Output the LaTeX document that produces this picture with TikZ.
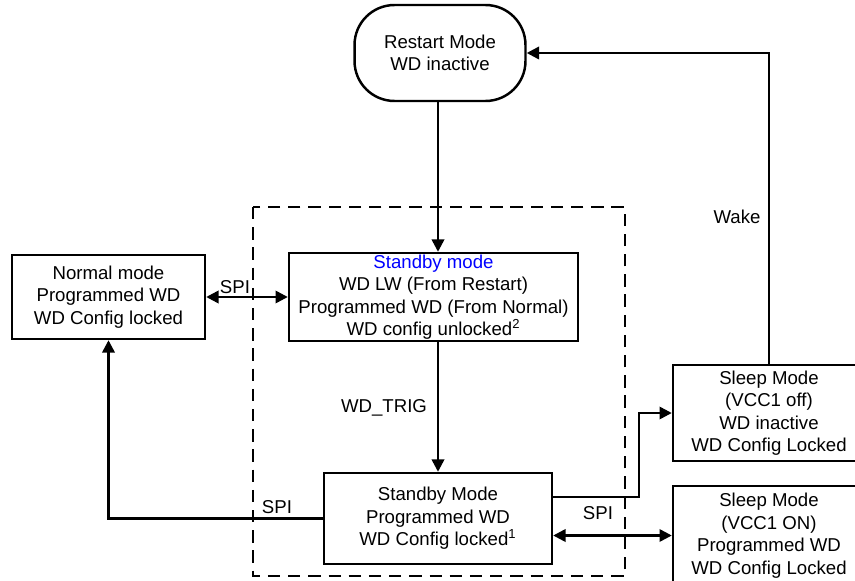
\documentclass[tikz,border=0pt]{standalone}
\usepackage{fontspec}
\setmainfont{Liberation Sans}
\usepackage{xcolor}
\definecolor{sbblue}{rgb}{0.0,0.0,1.0}
\usetikzlibrary{arrows.meta,positioning}

\begin{document}
\begin{tikzpicture}[x=0.02cm, y=-0.02cm,
      mode/.style={draw, line width=1.4pt, inner sep=0pt, align=center,
                   font=\fontsize{10.6}{12.8}\selectfont},
      rst/.style={mode, rounded corners=0.8cm},
      lbl/.style={inner sep=0pt, font=\fontsize{10.6}{12.8}\selectfont},
      arr/.style={-{Triangle[length=7pt,width=7pt]}, line width=1.4pt},
      darr/.style={{Triangle[length=7pt,width=7pt]}-{Triangle[length=7pt,width=7pt]}, line width=1.4pt}
  ]
    \useasboundingbox (0,0) rectangle (855,581);
    % standby region
    \draw[line width=1pt, dash pattern=on 7pt off 4.5pt] (253,207) rectangle (625,576);

    \node[rst, minimum width=3.42cm, minimum height=1.92cm] (rs) at (440,53) {Restart Mode\\ WD inactive};
    \node[mode, minimum width=3.86cm, minimum height=1.68cm] (nm) at (108.5,297) {Normal mode\\ Programmed WD\\ WD Config locked};
    \node[mode, minimum width=5.78cm, minimum height=1.76cm] (sb) at (433.5,297)
      {\textcolor{sbblue}{Standby mode}\\ WD LW (From Restart)\\ Programmed WD (From Normal)\\ WD config unlocked\textsuperscript{2}};
    \node[mode, minimum width=4.56cm, minimum height=1.82cm] (sp) at (438,518.5)
      {Standby Mode\\ Programmed WD\\ WD Config locked\textsuperscript{1}};
    \node[mode, minimum width=3.84cm, minimum height=1.92cm] (s1) at (769,413)
      {Sleep Mode\\ (VCC1 off)\\ WD inactive\\ WD Config Locked};
    \node[mode, minimum width=3.84cm, minimum height=1.98cm] (s2) at (769,535.5)
      {Sleep Mode\\ (VCC1 ON)\\ Programmed WD\\ WD Config Locked};

    \coordinate (up) at (639,497);

    \draw[arr] (rs.south -| sp.north) -- (sb.north -| sp.north);
    \draw[darr] (nm.east) -- (sb.west);
    \draw[arr] (sb.south -| sp.north) -- (sp.north);
    \draw[arr] (sp.west) -| (nm.south);
    \draw[arr] (sp.east |- up) -- (up) |- (s1.west);
    \draw[darr] (sp.east |- s2.west) -- (s2.west);
    \draw[arr] (s1.north) |- (rs.east);

    \node[lbl] (spia) at (235,287) {SPI};
    \node[lbl] (trig) at (384,408) {WD\_TRIG};
    \node[lbl] (spib) at (277,507) {SPI};
    \node[lbl] (spic) at (598,513) {SPI};
    \node[lbl] (wake) at (737,217) {Wake};
  \end{tikzpicture}
\end{document}
